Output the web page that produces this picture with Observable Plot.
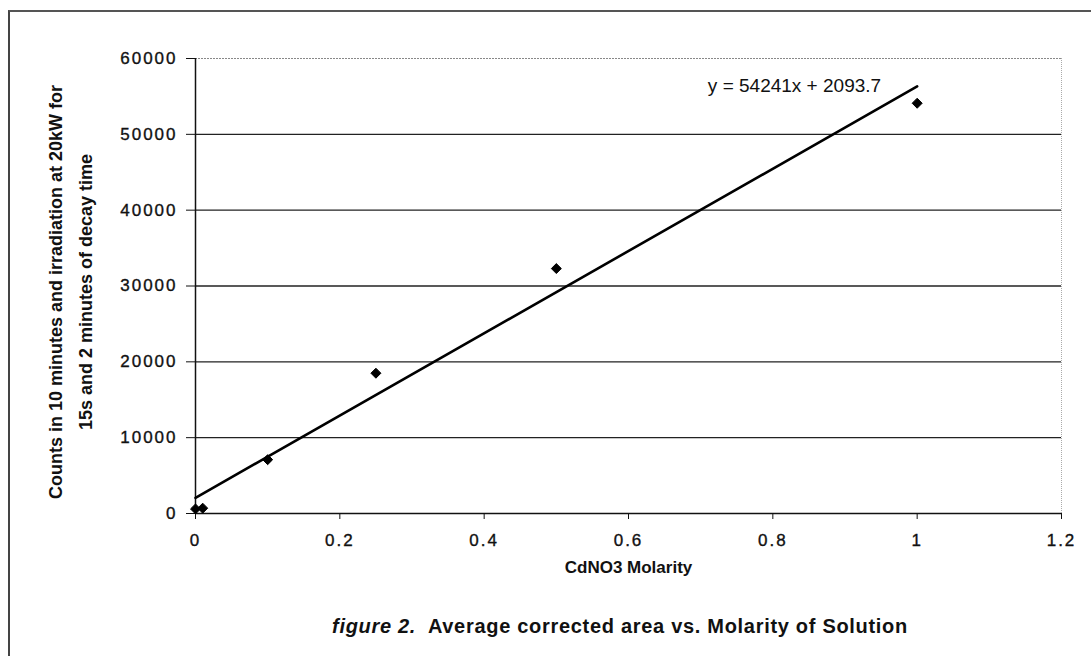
<!DOCTYPE html>
<html>
<head>
<meta charset="utf-8">
<script src="https://cdn.jsdelivr.net/npm/d3@7"></script>
<script src="https://cdn.jsdelivr.net/npm/@observablehq/plot@0.6"></script>
<style>
  html, body { margin: 0; padding: 0; background: #fff; overflow: hidden; }
  #wrap { position: relative; width: 1091px; height: 656px; overflow: hidden; }
  #frame { position: absolute; left: 8px; top: 10px; width: 1200px; height: 800px;
           border-left: 2px solid #444; border-top: 2px solid #555; box-sizing: border-box; }
  #chart { position: absolute; left: 0; top: 0; }
  #title { position: absolute; left: 0; width: 1240px; top: 615px; text-align: center;
           font-family: "Liberation Sans", Arial, sans-serif; font-weight: bold; font-size: 20px;
           letter-spacing: 0.7px; color: #111; }
  #title i { font-style: italic; }
</style>
</head>
<body>
<div id="wrap">
  <div id="frame"></div>
  <div id="chart"></div>
  <div id="title"><i>figure 2.</i>&nbsp; Average corrected area vs. Molarity of Solution</div>
</div>
<script>
// Data
const molarity = [0, 0.01, 0.1, 0.25, 0.5, 1];
const counts   = [600, 700, 7100, 18500, 32300, 54100];
const xTicks = [0, 0.2, 0.4, 0.6, 0.8, 1, 1.2];
const yTicks = [0, 10000, 20000, 30000, 40000, 50000, 60000];
const equationText = "y = 54241x + 2093.7";
const xTitle = "CdNO3 Molarity";
const yTitle = "Counts in 10 minutes and irradiation at 20kW for\n15s and 2 minutes of decay time";

const data = molarity.map((m, i) => ({m, c: counts[i]}));

const chart = Plot.plot({
  width: 1091,
  height: 600,
  marginLeft: 195,
  marginRight: 30,
  marginTop: 58,
  marginBottom: 87,
  style: {fontFamily: "'Liberation Sans', Arial, sans-serif", fontSize: "17px", color: "#111", background: "transparent", overflow: "visible"},
  x: {domain: [0, 1.2], ticks: xTicks},
  y: {domain: [0, 60000], ticks: yTicks},
  marks: [
    Plot.ruleY(yTicks.filter(d => d > 0 && d < 60000), {stroke: "#222", strokeWidth: 1.4}),
    Plot.ruleY([60000], {stroke: "#888", strokeDasharray: "2,1"}),
    Plot.ruleX([1.2], {stroke: "#aaa", strokeDasharray: "1,1"}),
    Plot.ruleX([0], {stroke: "#111", strokeWidth: 1.5}),
    Plot.ruleY([0], {stroke: "#111", strokeWidth: 1.5}),
    Plot.axisY({ticks: yTicks, tickSize: 9, tickPadding: 9, tickFormat: d => String(d), label: null, stroke: "#111"}),
    Plot.axisX({ticks: xTicks, tickSize: 6, tickPadding: 14, tickFormat: d => String(d), label: null, stroke: "#111"}),
    Plot.linearRegressionY(data, {x: "m", y: "c", stroke: "#000", strokeWidth: 2.6, ci: 0}),
    Plot.dot(data, {x: "m", y: "c", symbol: "diamond2", fill: "#000", stroke: "#000", strokeWidth: 1, r: 4.5}),
    Plot.text([equationText], {x: 0.83, y: 56400, text: d => d, fontSize: 19, fill: "#111", ariaLabel: "equation"}),
    Plot.text([xTitle], {frameAnchor: "bottom", dy: 59, text: d => d, fontSize: 17, fontWeight: "bold", fill: "#111", ariaLabel: "xtitle"}),
    Plot.text([yTitle], {frameAnchor: "left", textAnchor: "middle", dx: -128, dy: 6, rotate: -90, text: d => d, fontSize: 18, fontWeight: "bold", lineHeight: 1.65, fill: "#111", ariaLabel: "ytitle"})
  ]
});
document.getElementById("chart").appendChild(chart);
const svg = d3.select(chart);
svg.selectAll('g[aria-label="y-axis tick label"] text, g[aria-label="x-axis tick label"] text')
  .style("letter-spacing", "2px").attr("stroke", "#111").attr("stroke-width", 0.35);
svg.selectAll('g[aria-label="equation"] text').attr("textLength", 214).attr("lengthAdjust", "spacingAndGlyphs");
svg.selectAll('g[aria-label="xtitle"] text').attr("textLength", 173).attr("lengthAdjust", "spacingAndGlyphs");
</script>
</body>
</html>
